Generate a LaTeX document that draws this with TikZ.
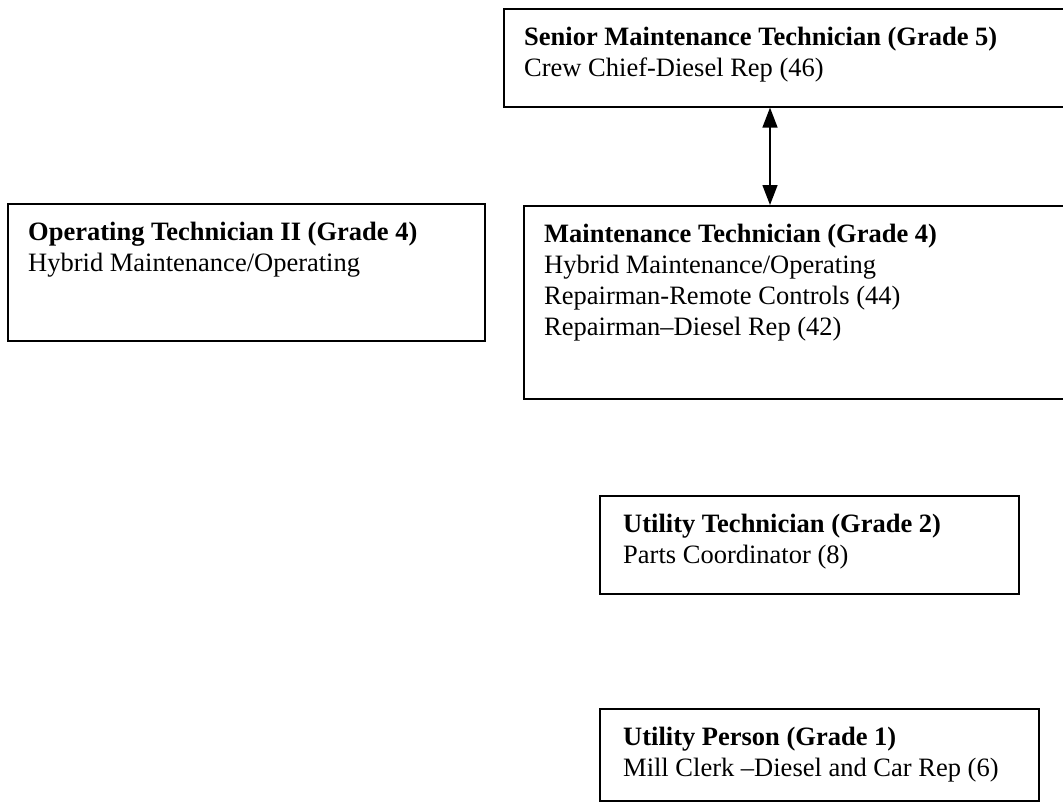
\documentclass[tikz,border=0pt]{standalone}
\usepackage{fontspec}
\setmainfont{Liberation Serif}
\usetikzlibrary{arrows.meta}
\begin{document}
\begin{tikzpicture}[x=1pt,y=-1pt,
  box/.style={draw=black, line width=1.6pt, inner sep=0pt, anchor=north west},
  txt/.style={anchor=base west, inner sep=0pt, font=\fontsize{26.5}{31}\selectfont},
  link/.style={line width=1.4pt, {Triangle[length=20pt,width=15pt]}-{Triangle[length=20pt,width=15pt]}}]
\useasboundingbox (0,0) rectangle (1063,804);
\clip (0,0) rectangle (1063,804);
% boxes
\node[box, minimum width=600pt, minimum height=98pt] (sen) at (503,8) {};
\node[box, minimum width=600pt, minimum height=193pt] (mnt) at (523,205) {};
\node[box, minimum width=477pt, minimum height=137pt] (opr) at (7,203) {};
\node[box, minimum width=419pt, minimum height=98pt] (utt) at (599,495) {};
\node[box, minimum width=439pt, minimum height=92pt] (utp) at (599,708) {};
% texts
\node[txt] (senT) at (524,45) {\begin{tabular}[t]{@{}l@{}}\textbf{Senior Maintenance Technician (Grade 5)}\\ Crew Chief-Diesel Rep (46)\end{tabular}};
\node[txt] (mntT) at (544,242) {\begin{tabular}[t]{@{}l@{}}\textbf{Maintenance Technician (Grade 4)}\\ Hybrid Maintenance/Operating\\ Repairman-Remote Controls (44)\\ Repairman--Diesel Rep (42)\end{tabular}};
\node[txt] (oprT) at (28,240) {\begin{tabular}[t]{@{}l@{}}\textbf{Operating Technician II (Grade 4)}\\ Hybrid Maintenance/Operating\end{tabular}};
\node[txt] (uttT) at (623,532) {\begin{tabular}[t]{@{}l@{}}\textbf{Utility Technician (Grade 2)}\\ Parts Coordinator (8)\end{tabular}};
\node[txt] (utpT) at (623,745) {\begin{tabular}[t]{@{}l@{}}\textbf{Utility Person (Grade 1)}\\ Mill Clerk --Diesel and Car Rep (6)\end{tabular}};
% connector
\coordinate (ax) at (770,0);
\draw[link] (sen.south -| ax) -- (mnt.north -| ax);
\end{tikzpicture}
\end{document}
